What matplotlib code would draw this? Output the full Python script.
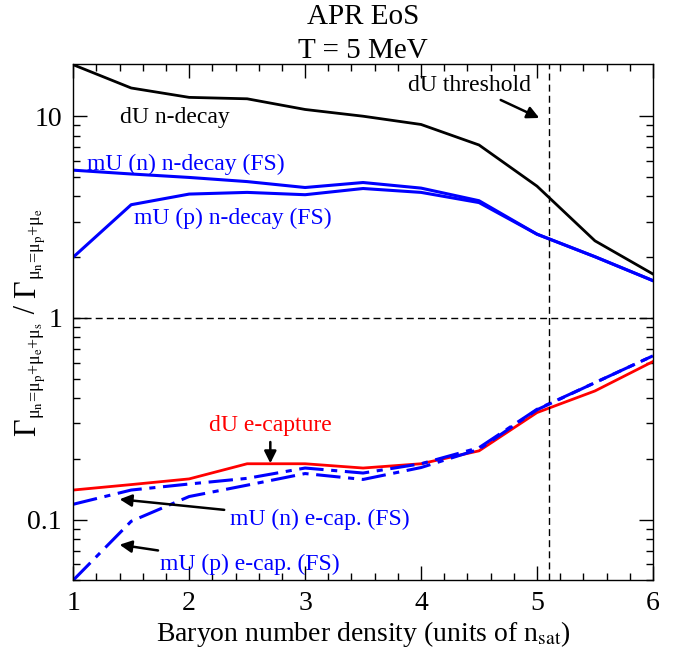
import matplotlib.pyplot as plt
import numpy as np
from matplotlib.ticker import MultipleLocator, LogLocator, FixedFormatter, FixedLocator
from matplotlib.transforms import IdentityTransform

plt.rcParams['font.family'] = ['Liberation Serif', 'DejaVu Serif']
plt.rcParams['mathtext.fontset'] = 'stix'

# density in units of n_sat
n_b = [1.0, 1.5, 2.0, 2.5, 3.0, 3.5, 4.0, 4.5, 5.0, 5.5, 6.0]

# rate ratios
du_ndecay = [18.0, 13.8, 12.4, 12.2, 10.8, 10.0, 9.1, 7.2, 4.5, 2.41, 1.65]
mun_ndecay = [5.4, 5.17, 4.97, 4.74, 4.43, 4.69, 4.4, 3.81, 2.6, 2.01, 1.53]
mup_ndecay = [2.0, 3.64, 4.11, 4.19, 4.08, 4.38, 4.19, 3.73, 2.6, 2.01, 1.53]
du_ecap = [0.14, 0.149, 0.159, 0.189, 0.189, 0.18, 0.189, 0.219, 0.339, 0.434, 0.607]
mun_ecap = [0.119, 0.14, 0.150, 0.16, 0.18, 0.17, 0.189, 0.227, 0.352, 0.477, 0.648]
mup_ecap = [0.05, 0.098, 0.13, 0.148, 0.169, 0.158, 0.181, 0.223, 0.35, 0.477, 0.648]

du_threshold = 5.1

fig = plt.figure(figsize=(6.78, 6.49), dpi=100)
ax = fig.add_axes([0.108, 0.106, 0.855, 0.795])

ax.plot(n_b, du_ndecay, color='black', lw=2.0)
ax.plot(n_b, mun_ndecay, color='blue', lw=2.2)
ax.plot(n_b, mup_ndecay, color='blue', lw=2.2)
ax.plot(n_b, du_ecap, color='red', lw=2.0)
ax.plot(n_b, mun_ecap, color='blue', lw=2.2, dashes=[8, 2.5, 2, 2.5])
ax.plot(n_b, mup_ecap, color='blue', lw=2.2, dashes=[8, 2.5, 2, 2.5])

ax.axhline(1.0, color='black', lw=1.0, ls=(0, (5, 3)))
ax.axvline(du_threshold, color='black', lw=1.0, ls=(0, (5, 3)))

ax.set_yscale('log')
ax.set_xlim(1, 6)
ax.set_ylim(0.05, 18.1)

ax.xaxis.set_major_locator(MultipleLocator(1))
ax.xaxis.set_minor_locator(MultipleLocator(0.2))
ax.yaxis.set_major_locator(FixedLocator([0.1, 1, 10]))
ax.yaxis.set_major_formatter(FixedFormatter(['0.1', '1', '10']))
ax.yaxis.set_minor_locator(LogLocator(base=10, subs=np.arange(2, 10)))
ax.yaxis.set_minor_formatter(FixedFormatter([]))

ax.tick_params(which='both', direction='in', top=True, right=True, labelsize=20, pad=8)
ax.tick_params(which='major', length=10, width=1)
ax.tick_params(which='minor', length=5, width=1)
for s in ax.spines.values():
    s.set_linewidth(1.0)

ax.set_xlabel(r'Baryon number density (units of n$_{\rm sat}$)', fontsize=20, labelpad=2)
ax.set_title('APR EoS\nT = 5 MeV', fontsize=21, linespacing=1.4, pad=3)

ax.text(1.4, 9.8, 'dU n-decay', fontsize=17, color='black', va='center')
ax.text(1.12, 5.75, 'mU (n) n-decay (FS)', fontsize=17, color='blue', va='center')
ax.text(1.52, 3.1, 'mU (p) n-decay (FS)', fontsize=17, color='blue', va='center')

arrow = dict(arrowstyle='-|>', color='black', lw=1.8, mutation_scale=18, shrinkA=2, shrinkB=0)
ax.annotate('dU threshold', xy=(5.02, 9.8), xytext=(4.42, 14.2), fontsize=17,
            ha='center', va='center', arrowprops=arrow)
ax.annotate('dU e-capture', xy=(2.7, 0.19), xytext=(2.7, 0.291), fontsize=17, color='red',
            ha='center', va='center', arrowprops=arrow)
ax.annotate('mU (n) e-cap. (FS)', xy=(1.4, 0.126), xytext=(2.35, 0.1), fontsize=17, color='blue',
            ha='left', va='center', arrowprops=arrow)
ax.annotate('mU (p) e-cap. (FS)', xy=(1.4, 0.075), xytext=(1.75, 0.06), fontsize=17, color='blue',
            ha='left', va='center', arrowprops=arrow)

# y label built from pieces so the subscripts stay small, like the original
ylab_parts = [('Γ', 22, 0), (r'μ$_\mathrm{n}$=μ$_\mathrm{p}$+μ$_\mathrm{e}$+μ$_\mathrm{s}$', 13, 6),
              (' / ', 22, 0),
              ('Γ', 22, 0), (r'μ$_\mathrm{n}$=μ$_\mathrm{p}$+μ$_\mathrm{e}$', 13, 6)]
fig.canvas.draw()
renderer = fig.canvas.get_renderer()
base_x = 35
texts = []
for s, size, shift in ylab_parts:
    t = fig.text(base_x + shift, 0, s, fontsize=size, rotation=90, rotation_mode='anchor',
                 ha='left', va='baseline', transform=IdentityTransform())
    texts.append(t)
lengths = [t.get_window_extent(renderer).height for t in texts]
ax_box = ax.get_window_extent(renderer)
y0 = (ax_box.y0 + ax_box.y1) / 2 - sum(lengths) / 2
for t, L in zip(texts, lengths):
    t.set_y(y0)
    y0 += L

fig.savefig('out.png', dpi=100)
